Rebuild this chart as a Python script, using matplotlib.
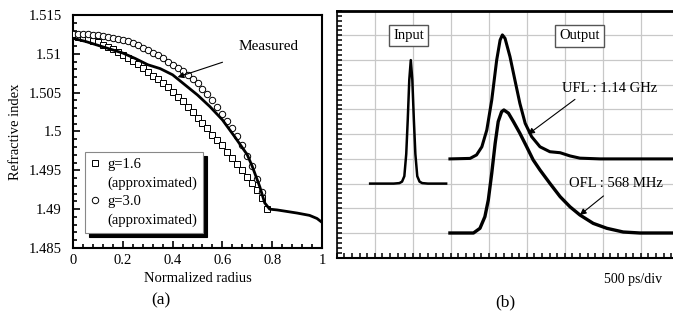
import numpy as np
import matplotlib
matplotlib.use("Agg")
import matplotlib.pyplot as plt
from matplotlib.ticker import MultipleLocator, FuncFormatter
from matplotlib.lines import Line2D

plt.rcParams['font.family'] = ['Liberation Serif', 'DejaVu Serif']
plt.rcParams['font.size'] = 10.5

# ---- (a) refractive index profile ----
meas_r = [0.0, 0.05, 0.1, 0.15, 0.2, 0.25, 0.3, 0.35, 0.4, 0.45, 0.5, 0.55, 0.6,
          0.65, 0.7, 0.72, 0.75, 0.77, 0.79, 0.82, 0.86, 0.9, 0.95, 0.98, 1.0]
meas_n = [1.5120, 1.5116, 1.5111, 1.5106, 1.5101, 1.5094, 1.5086, 1.5081, 1.5073,
          1.5060, 1.5047, 1.5032, 1.5015, 1.4993, 1.4970, 1.4955, 1.4929, 1.4908,
          1.4900, 1.4899, 1.4897, 1.4895, 1.4892, 1.4888, 1.4883]

fit_r = [0.00, 0.02, 0.04, 0.06, 0.08, 0.10, 0.12, 0.14, 0.16, 0.18,
         0.20, 0.22, 0.24, 0.26, 0.28, 0.30, 0.32, 0.34, 0.36, 0.38,
         0.40, 0.42, 0.44, 0.46, 0.48, 0.50, 0.52, 0.54, 0.56, 0.58,
         0.60, 0.62, 0.64, 0.66, 0.68, 0.70, 0.72, 0.74, 0.76, 0.78]
g16_n = [1.5123, 1.5122, 1.5121, 1.5119, 1.5117, 1.5115, 1.5112, 1.5109, 1.5106, 1.5102,
         1.5099, 1.5095, 1.5091, 1.5087, 1.5082, 1.5077, 1.5072, 1.5067, 1.5062, 1.5057,
         1.5051, 1.5045, 1.5039, 1.5032, 1.5025, 1.5018, 1.5011, 1.5004, 1.4996, 1.4989,
         1.4982, 1.4974, 1.4966, 1.4958, 1.4950, 1.4942, 1.4934, 1.4925, 1.4915, 1.4900]
g30_n = [1.5125, 1.5125, 1.5125, 1.5125, 1.5124, 1.5124, 1.5123, 1.5122, 1.5121, 1.5119,
         1.5118, 1.5116, 1.5114, 1.5111, 1.5108, 1.5105, 1.5101, 1.5098, 1.5094, 1.5090,
         1.5086, 1.5082, 1.5078, 1.5073, 1.5068, 1.5062, 1.5055, 1.5048, 1.5041, 1.5032,
         1.5022, 1.5013, 1.5004, 1.4994, 1.4982, 1.4969, 1.4955, 1.4939, 1.4922]

# ---- (b) pulse waveforms (divisions) ----
in_t = [0.88, 1.5, 1.65, 1.72, 1.78, 1.83, 1.87, 1.91, 1.95, 1.99, 2.03, 2.07, 2.12,
        2.18, 2.25, 2.4, 2.88]
in_v = [3.0, 3.0, 3.02, 3.08, 3.3, 4.2, 5.6, 7.2, 8.0, 7.2, 5.6, 4.2, 3.3,
        3.08, 3.02, 3.0, 3.0]

ufl_t = [2.98, 3.51, 3.68, 3.82, 3.95, 4.08, 4.21, 4.30, 4.36, 4.43, 4.56, 4.69,
         4.82, 4.96, 5.13, 5.35, 5.61, 5.88, 6.14, 6.40, 6.93, 8.85]
ufl_v = [4.0, 4.02, 4.16, 4.49, 5.17, 6.38, 8.0, 8.81, 9.02, 8.88, 8.14, 7.19,
         6.25, 5.44, 4.9, 4.49, 4.29, 4.25, 4.12, 4.03, 4.0, 4.0]

ofl_t = [2.98, 3.6, 3.77, 3.9, 3.99, 4.08, 4.17, 4.25, 4.34, 4.40, 4.52, 4.65,
         4.82, 5.0, 5.17, 5.35, 5.61, 5.88, 6.14, 6.40, 6.75, 7.11, 7.54, 7.98, 8.85]
ofl_v = [1.0, 1.0, 1.19, 1.66, 2.34, 3.42, 4.63, 5.51, 5.91, 5.98, 5.85, 5.51,
         5.04, 4.49, 3.96, 3.55, 3.01, 2.47, 2.06, 1.73, 1.39, 1.19, 1.04, 1.0, 1.0]

fig = plt.figure(figsize=(6.73, 3.18), dpi=100)

# left panel
ax = fig.add_axes([73 / 673, 70 / 318, 249 / 673, 233 / 318])
ax.plot(fit_r, g16_n, ls='none', marker='s', ms=4.2, mfc='white',
        mec='black', mew=0.7, zorder=3)
ax.plot(fit_r[:len(g30_n)], g30_n, ls='none', marker='o', ms=4.6, mfc='white',
        mec='black', mew=0.7, zorder=3)
ax.plot(meas_r, meas_n, color='black', lw=2.0, zorder=4)
ax.set_xlim(0, 1)
ax.set_ylim(1.485, 1.515)
ax.xaxis.set_major_locator(MultipleLocator(0.2))
ax.xaxis.set_minor_locator(MultipleLocator(0.04))
ax.yaxis.set_major_locator(MultipleLocator(0.005))
ax.yaxis.set_minor_locator(MultipleLocator(0.001))
fmt = FuncFormatter(lambda v, p: '%g' % round(v, 4))
ax.xaxis.set_major_formatter(fmt)
ax.yaxis.set_major_formatter(fmt)
ax.tick_params(which='both', direction='in', top=False, right=False, width=1.2)
ax.tick_params(which='major', length=5)
ax.tick_params(which='minor', length=3)
ax.tick_params(axis='y', which='major', pad=8)
ax.tick_params(axis='x', which='major', pad=4)
for s in ax.spines.values():
    s.set_linewidth(1.5)
ax.set_xlabel('Normalized radius', labelpad=4)
ax.set_ylabel('Refractive index', labelpad=5)

ax.annotate('Measured', xy=(0.42, 1.5070), xytext=(0.787, 1.5109),
            ha='center', va='center', fontsize=11,
            arrowprops=dict(arrowstyle='-|>', color='black', lw=0.8,
                            mutation_scale=9, shrinkA=14, shrinkB=0))

handles = [Line2D([], [], ls='none', marker='s', ms=4.2, mfc='white', mec='black', mew=0.7),
           Line2D([], [], ls='none'),
           Line2D([], [], ls='none', marker='o', ms=4.6, mfc='white', mec='black', mew=0.7),
           Line2D([], [], ls='none')]
labels = ['g=1.6', '(approximated)', 'g=3.0', '(approximated)']
leg = ax.legend(handles, labels, loc='upper left', bbox_to_anchor=(0.048, 0.412),
                borderaxespad=0, fancybox=False, edgecolor='#888888',
                handlelength=0.6, handletextpad=0.55, labelspacing=0.36,
                borderpad=0.4, fontsize=10.5,
                shadow={'ox': 3, 'oy': -3, 'facecolor': 'black',
                        'edgecolor': 'black', 'alpha': 1})
leg.get_frame().set_linewidth(0.8)

fig.text(161 / 673, 1 - 300 / 318, '(a)', ha='center', va='center', fontsize=12.5)

# right panel
bx = fig.add_axes([336.7 / 673, 60.3 / 318, (673 - 336.7) / 673, 247 / 318])
bx.plot(in_t, in_v, color='black', lw=1.8)
bx.plot(ufl_t, ufl_v, color='black', lw=2.2)
bx.plot(ofl_t, ofl_v, color='black', lw=2.4)
bx.set_xlim(0, 8.85)
bx.set_ylim(0, 10)
bx.xaxis.set_major_locator(MultipleLocator(1))
bx.xaxis.set_minor_locator(MultipleLocator(0.2))
bx.yaxis.set_major_locator(MultipleLocator(1))
bx.yaxis.set_minor_locator(MultipleLocator(0.2))
bx.grid(True, which='major', color='#c8c8c8', lw=0.9)
bx.set_axisbelow(True)
bx.tick_params(which='both', direction='in', labelbottom=False, labelleft=False,
               top=False, right=False, width=1.1, length=3.5)
bx.spines['right'].set_visible(False)
bx.spines['top'].set_linewidth(2)
bx.spines['bottom'].set_linewidth(1.5)
bx.spines['left'].set_linewidth(1.2)

box = dict(boxstyle='square,pad=0.3', fc='white', ec='#555555', lw=1.0)
bx.text(1.89, 9.0, 'Input', ha='center', va='center', fontsize=10.5, bbox=box)
bx.text(6.39, 8.98, 'Output', ha='center', va='center', fontsize=10.5, bbox=box)

arrow = dict(arrowstyle='-|>', color='black', lw=0.8, mutation_scale=9,
             shrinkA=0, shrinkB=0)
bx.text(7.18, 6.85, 'UFL : 1.14 GHz', ha='center', va='center', fontsize=10.5)
bx.annotate('', xy=(5.04, 5.0), xytext=(6.27, 6.41), arrowprops=arrow)
bx.text(7.36, 3.0, 'OFL : 568 MHz', ha='center', va='center', fontsize=10.5)
bx.annotate('', xy=(6.40, 1.73), xytext=(7.02, 2.5), arrowprops=arrow)

fig.text(633 / 673, 1 - 279 / 318, '500 ps/div', ha='center', va='center', fontsize=10)
fig.text(505 / 673, 1 - 302 / 318, '(b)', ha='center', va='center', fontsize=12.5)

fig.savefig('out.png', dpi=100)
